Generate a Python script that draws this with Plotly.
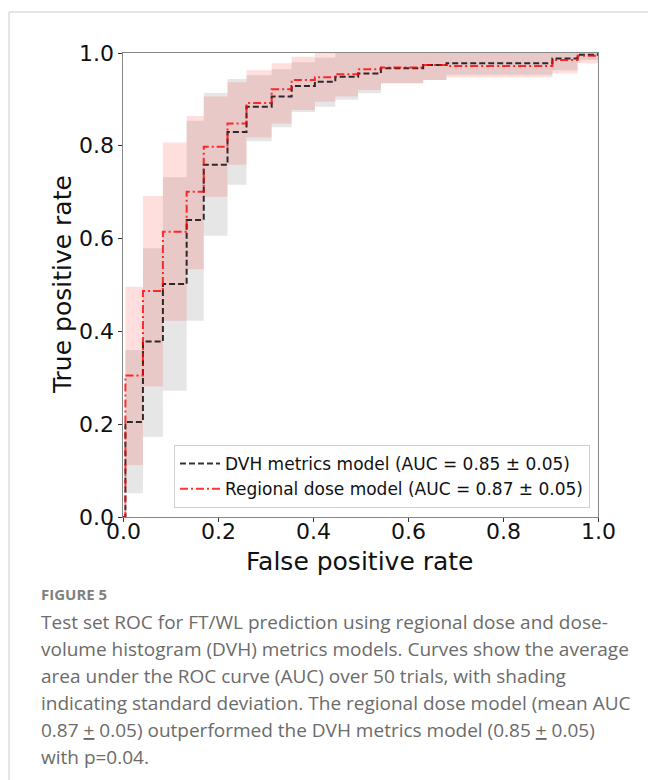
import plotly.graph_objects as go

# ---------------- data ----------------
fpr_grid = [0, 0.005, 0.042, 0.084, 0.134, 0.17, 0.22, 0.26, 0.313, 0.355,
            0.404, 0.447, 0.495, 0.543, 0.632, 0.681, 0.904, 0.957, 1.0]

dvh_mean = [0, 0.205, 0.378, 0.502, 0.640, 0.759, 0.830, 0.884, 0.906, 0.929,
            0.938, 0.949, 0.956, 0.967, 0.974, 0.978, 0.988, 0.996, 1.0]
dvh_upper = [0, 0.360, 0.579, 0.732, 0.854, 0.914, 0.944, 0.952, 0.965, 0.980,
             0.990, 1.0, 1.0, 1.0, 1.0, 1.0, 1.0, 1.0, 1.0]
dvh_lower = [0, 0.051, 0.173, 0.272, 0.423, 0.606, 0.716, 0.810, 0.840, 0.873,
             0.884, 0.899, 0.913, 0.935, 0.942, 0.953, 0.963, 0.985, 1.0]

reg_mean = [0, 0.305, 0.487, 0.615, 0.701, 0.798, 0.848, 0.892, 0.922, 0.942,
            0.948, 0.954, 0.965, 0.969, 0.974, 0.972, 0.985, 0.994, 1.0]
reg_upper = [0, 0.496, 0.692, 0.807, 0.864, 0.906, 0.937, 0.963, 0.978, 0.992,
             1.0, 1.0, 1.0, 1.0, 1.0, 1.0, 1.0, 1.0, 1.0]
reg_lower = [0, 0.112, 0.281, 0.423, 0.534, 0.690, 0.759, 0.818, 0.848, 0.877,
             0.895, 0.906, 0.920, 0.935, 0.942, 0.948, 0.956, 0.978, 1.0]

legend_dvh = "DVH metrics model (AUC = 0.85 ± 0.05)"
legend_reg = "Regional dose model (AUC = 0.87 ± 0.05)"
tick_vals = [0.0, 0.2, 0.4, 0.6, 0.8, 1.0]
tick_text = ["0.0", "0.2", "0.4", "0.6", "0.8", "1.0"]

caption_head = "FIGURE 5"
caption_lines = [
    "Test set ROC for FT/WL prediction using regional dose and dose-",
    "volume histogram (DVH) metrics models. Curves show the average",
    "area under the ROC curve (AUC) over 50 trials, with shading",
    "indicating standard deviation. The regional dose model (mean AUC",
    "0.87 <u>+</u> 0.05) outperformed the DVH metrics model (0.85 <u>+</u> 0.05)",
    "with p=0.04.",
]

# ---------------- layout geometry ----------------
W, H = 648, 780
L, R, T, B = 123, 598, 53, 517   # plot area in px


def px_x(px):
    return (px - L) / (R - L)


def px_y(py):
    return (B - py) / (B - T)


FONT = "DejaVu Sans"
fig = go.Figure()

# bands
fig.add_trace(go.Scatter(x=fpr_grid, y=dvh_lower, mode="lines", line=dict(width=0, shape="hv"),
                         showlegend=False, hoverinfo="skip"))
fig.add_trace(go.Scatter(x=fpr_grid, y=dvh_upper, mode="lines", line=dict(width=0, shape="hv"),
                         fill="tonexty", fillcolor="rgba(128,128,128,0.2)",
                         showlegend=False, hoverinfo="skip"))
fig.add_trace(go.Scatter(x=fpr_grid, y=reg_lower, mode="lines", line=dict(width=0, shape="hv"),
                         showlegend=False, hoverinfo="skip"))
fig.add_trace(go.Scatter(x=fpr_grid, y=reg_upper, mode="lines", line=dict(width=0, shape="hv"),
                         fill="tonexty", fillcolor="rgba(255,0,0,0.13)",
                         showlegend=False, hoverinfo="skip"))

# mean curves
fig.add_trace(go.Scatter(x=fpr_grid, y=dvh_mean, mode="lines", name=legend_dvh,
                         line=dict(color="rgba(0,0,0,0.8)", width=2, dash="6px,3px", shape="hv")))
fig.add_trace(go.Scatter(x=fpr_grid, y=reg_mean, mode="lines", name=legend_reg,
                         line=dict(color="rgba(255,0,0,0.8)", width=2, dash="8px,3px,2px,3px", shape="hv")))

axis_common = dict(range=[0, 1], tickvals=tick_vals, showticklabels=False,
                   ticks="outside", ticklen=4, tickwidth=1, tickcolor="#333",
                   showline=True, linecolor="#888", linewidth=1.2, mirror=True,
                   showgrid=False, zeroline=False)
fig.update_xaxes(**axis_common)
fig.update_yaxes(**axis_common)

tick_font = dict(family=FONT, size=22, color="#111")
annotations = []
for v, t in zip(tick_vals, tick_text):
    annotations.append(dict(text=t, x=v, xref="x", y=px_y(531), yref="paper", showarrow=False,
                            font=tick_font, xanchor="center", yanchor="middle"))
    annotations.append(dict(text=t, y=v, yref="y", x=px_x(116), xref="paper", showarrow=False,
                            font=tick_font, xanchor="right", yanchor="middle"))

annotations += [
    dict(text="False positive rate", x=px_x(360), y=px_y(561), xref="paper", yref="paper",
         showarrow=False, font=dict(family=FONT, size=25, color="#111"),
         xanchor="center", yanchor="middle"),
    dict(text="True positive rate", x=px_x(62), y=px_y(285), xref="paper", yref="paper",
         showarrow=False, textangle=-90, font=dict(family=FONT, size=25, color="#111"),
         xanchor="center", yanchor="middle"),
    dict(text="<b>" + caption_head + "</b>", x=px_x(39), y=px_y(594), xref="paper", yref="paper",
         showarrow=False, font=dict(family="Open Sans", size=15, color="#808080"),
         xanchor="left", yanchor="middle"),
]
for i, line in enumerate(caption_lines):
    annotations.append(dict(text=line, x=px_x(39), y=px_y(622 + 27 * i), xref="paper", yref="paper",
                            showarrow=False, font=dict(family="Open Sans", size=19, color="#6b6b6b"),
                            xanchor="left", yanchor="middle"))

shapes = [
    dict(type="line", xref="paper", yref="paper", x0=px_x(9), x1=px_x(660), y0=px_y(12), y1=px_y(12),
         line=dict(color="#cccccc", width=1)),
    dict(type="line", xref="paper", yref="paper", x0=px_x(9), x1=px_x(9), y0=px_y(12), y1=px_y(790),
         line=dict(color="#cccccc", width=1)),
]

fig.update_layout(
    width=W, height=H,
    margin=dict(l=L, r=W - R, t=T, b=H - B),
    paper_bgcolor="white", plot_bgcolor="white",
    font=dict(family=FONT),
    legend=dict(x=px_x(590), y=px_y(508), xanchor="right", yanchor="bottom",
                traceorder="normal",
                bgcolor="rgba(255,255,255,0.85)", bordercolor="#d0d0d0", borderwidth=1,
                font=dict(family=FONT, size=17, color="#111"),
                tracegroupgap=0, itemwidth=40),
    annotations=annotations,
    shapes=shapes,
)

fig.write_html("out.html")
